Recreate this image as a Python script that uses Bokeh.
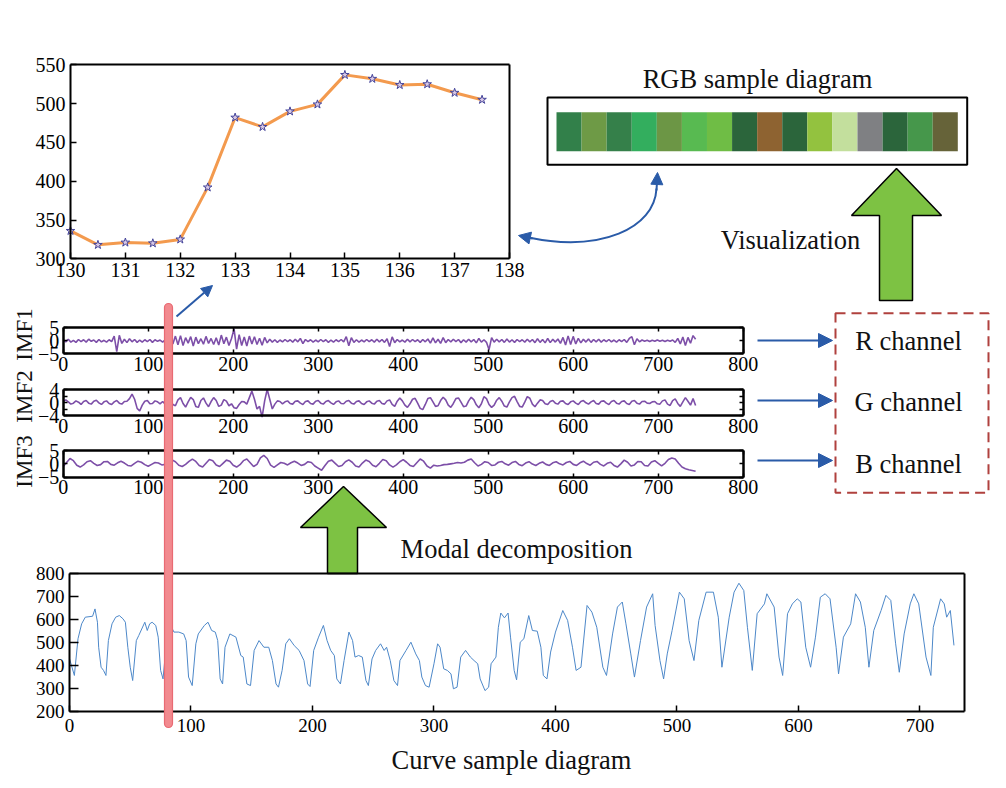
from bokeh.plotting import figure
from bokeh.models import Range1d, LinearAxis, FixedTicker, Arrow, NormalHead, Label
from bokeh.embed import file_html
from bokeh.resources import INLINE

FONT = "Liberation Serif"
BLUE = "#2A5BA8"
GREEN = "#7DC243"
PURPLE = "#7D4FA8"
CURVE_BLUE = "#4D88C9"
ORANGE = "#F39A4E"

# ---------------- data ----------------
top_x = [130, 130.5, 131, 131.5, 132, 132.5, 133, 133.5, 134, 134.5, 135, 135.5, 136, 136.5, 137, 137.5]
top_y = [336, 318, 321, 320, 325, 392, 482, 470, 490, 499, 537, 532, 524, 525, 514, 505]
top_xticks = [130, 131, 132, 133, 134, 135, 136, 137, 138]
top_yticks = [300, 350, 400, 450, 500, 550]

rgb_colors = ["#32804A", "#6E9A46", "#35804A", "#33AE5E", "#6C9645", "#58BA51", "#6FBD45", "#2B653B",
              "#8E6331", "#2B653B", "#93C23F", "#C3DF9D", "#7F8083", "#2B653B", "#46974B", "#666339"]
rgb_index = list(range(len(rgb_colors)))

imf_xticks = [0, 100, 200, 300, 400, 500, 600, 700, 800]
imf1_yticks = [-5, 0, 5]
imf2_yticks = [-4, -2, 0, 2, 4]
imf3_yticks = [-5, 0, 5]

# IMF1 sampled every 3 points
imf1 = [0.3, -0.4, 0.6, -0.5, 0.2, -0.6, 0.5, -0.3, 0.4, -0.5, 0.6, -0.2, 0.3, -0.6, 0.5, -0.4, 0.2, -0.5, 0.4, -0.3,
        1.8, -4.2, 2.1, -1.0, 0.6, -0.7, 0.8, -0.4, 0.5, -0.6, 0.3, -0.5, 0.4, -0.3, 0.5, -0.6, 0.4, -0.2, 0.3, -0.5,
        0.4, -0.6, 0.9, -1.2, 1.8, -1.5, 2.0, -1.8, 1.2, -0.9, 1.6, -2.0, 1.4, -1.1, 0.8, -1.3, 1.7, -1.0, 0.9, -1.4,
        1.2, -1.6, 2.2, -1.1, 1.4, -1.8, 0.9, 4.6, -3.2, 2.4, -1.8, 1.5, -2.0, 1.8, -1.2, 1.6, -1.4, 1.0, -1.7, 1.3,
        -0.8, 0.6, -0.5, 0.4, -0.6, 0.3, -0.4, 0.5, -0.3, 0.4, -0.5, 0.6, -0.4, 0.9, -1.1, 0.5, -0.3, 0.4, -0.5, 0.3,
        -0.4, 0.5, -0.3, 0.4, -0.6, 0.3, -0.5, 0.4, -0.3, 0.5, -0.4, 1.6, -1.9, 1.2, -0.6, 0.4, -0.5, 0.3, -0.4, 0.5,
        -0.3, 0.4, -0.5, 0.6, -0.4, 0.5, -0.6, 0.8, -2.2, 1.5, -0.7, 0.5, -0.4, 0.3, -0.5, 0.6, -0.4, 0.5, -0.3, 0.4,
        -0.6, 0.5, -0.4, 0.7, -0.9, 1.1, -0.8, 0.6, -1.0, 1.2, -0.7, 0.5, -0.4, 0.6, -0.3, 0.5, -0.7, 0.4, -0.5, 0.6,
        -0.4, 0.5, -0.8, 0.9, -0.5, 0.4, -0.6, -3.4, 1.2, -0.5, 0.6, -0.4, 0.5, -0.6, 0.7, -0.5, 0.4, -0.6, 0.5, -0.3,
        0.4, -0.5, 0.6, -0.4, 0.5, -0.7, 0.8, -0.6, 0.5, -0.8, 0.9, -0.7, 0.6, -0.5, 0.7, -1.0, 1.3, -1.6, 1.9, -1.4,
        1.7, -1.2, 0.9, -0.8, 0.6, -0.5, 0.7, -0.6, 0.5, -0.4, 0.6, -0.5, 0.4, -0.3, 0.5, -0.4, 0.3, -0.5, 0.4, -0.3,
        0.5, -0.6, 0.9, 1.6, -1.5, 0.8, -0.4, 0.3, -0.2, 0.2, -0.3, 0.2, -0.2, 0.3, -0.2, 0.2, -0.3, 0.2, -0.2, 0.3,
        -0.6, 0.9, -1.2, 1.5, -1.8, 1.3, -0.9, 2.0, 0.6]

# IMF2 sampled every 3 points
imf2 = [0.3, 0.8, 0.2, -0.5, -0.2, 0.5, 0.1, -0.6, 0.3, 0.6, -0.2, -0.5, 0.4, 0.7, -0.1, -0.6, 0.2, 0.5, -0.3, -0.6,
        0.2, 0.6, -0.2, -0.5, 0.3, 0.4, 1.2, 2.6, 1.0, -1.8, -2.6, -0.8, 0.4, 0.6, -0.4, -0.3, 0.5, 0.2, -0.4, 0.3,
        -0.5, 0.4, 0.6, -0.6, -1.0, 0.8, 1.5, -0.3, -1.4, 0.2, 1.6, 0.9, -1.2, -1.5, 0.6, 1.4, -0.2, -1.3, 0.3, 1.5,
        0.6, -1.2, -0.8, 0.9, 0.4, -1.0, -0.4, -1.6, -1.8, -0.6, 0.3, 0.2, -0.5, 1.5, 3.5, 1.0, -2.0, -1.2, -4.5, 0.5,
        4.0, 1.0, -2.0, -0.5, 0.5, 0.3, -0.4, 0.2, 0.5, -0.3, -0.5, 0.4, 0.5, -0.2, -0.6, 0.3, 0.5, -0.3, -0.5, 0.4,
        0.6, -0.2, -0.5, 0.3, 0.6, -0.1, -0.6, 0.2, 0.5, -0.3, -0.4, 0.4, 0.6, -0.2, -0.5, 0.3, 0.5, -0.3, -0.6, 0.2,
        0.5, -0.2, -0.5, 0.4, 0.6, -0.3, -0.5, 0.5, 0.8, -0.6, -1.2, 0.4, 1.4, 0.5, -0.8, -1.5, -0.4, 1.0, 1.3, -0.2,
        -1.8, -2.2, -0.6, 1.2, 1.5, 0.2, -1.2, -1.0, 0.6, 1.6, 0.8, -0.8, -1.5, -0.3, 1.2, 1.4, 0.1, -1.3, -1.1, 0.5,
        1.6, 0.9, -0.7, -1.6, -0.4, 1.8, 1.2, -0.6, -1.5, -0.8, 0.7, 1.5, 0.4, -1.1, -1.4, 0.2, 1.5, 1.9, 0.3, -1.2,
        -1.4, 0.1, 1.8, 1.3, -0.5, -1.3, -0.2, 0.8, 0.6, -0.4, -0.6, 0.3, 0.6, -0.2, -0.5, 0.4, 0.5, -0.3, -0.6, 0.2,
        0.5, -0.2, -0.6, 0.3, 0.6, -0.1, -0.5, 0.2, 0.6, -0.3, -0.5, 0.4, 0.5, -0.2, -0.6, 0.3, 0.6, -0.2, -0.5, 0.3,
        0.5, -0.3, -0.6, 0.4, 0.6, -0.2, -0.5, 0.3, 0.4, -0.2, -0.3, 0.2, 0.3, -0.4, -0.5, 0.5, 0.8, -0.5, -0.9, 0.6,
        1.1, -0.3, -1.2, 0.2, 1.5, 0.4, -0.8, 1.2, -0.9]

# IMF3 sampled every 4 points
imf3 = [-1.0, 0.5, 2.0, 1.2, -0.5, -1.2, -0.4, 0.8, 1.2, 0.2, -0.6, -0.3, 0.8, 0.9, -0.2, -0.5, 0.4, 1.0, 0.3, -0.6,
        -0.8, 0.2, 1.0, 0.6, -0.3, -0.9, -0.2, 0.5, 0.3, -0.4, -0.2, 0.4, 1.5, 0.8, -0.5, -1.0, -0.2, 0.9, 1.8, 0.9,
        -0.6, -1.2, 0.2, 1.6, 1.2, -0.4, -1.0, 0.2, 1.4, 1.0, -0.5, -1.2, -0.3, 1.2, 1.8, 0.4, -1.0, -0.2, 2.2, 3.2,
        2.0, -0.5, -1.3, -0.4, 0.5, 0.2, -0.4, 0.4, 1.0, 0.3, -0.6, -0.2, 0.8, 0.5, -0.8, -1.6, -2.4, -0.6, 1.0, 1.4,
        0.2, -1.0, -0.6, 0.8, 1.5, 0.6, -0.8, -1.2, 0.3, 1.4, 0.9, -0.5, -1.1, 0.2, 1.6, 1.2, -0.4, -1.2, -0.4, 0.8,
        1.6, 0.6, -0.6, -1.0, 0.4, 1.8, 1.0, -0.8, -1.6, -0.5, -0.8, -0.6, -0.3, -0.2, 0.0, 0.2, 0.5, 0.3, 0.6, 1.4,
        1.8, 0.4, -0.8, -0.2, 0.8, 0.5, -0.6, -0.4, 0.6, 0.9, 0.0, -0.5, 0.5, 0.9, -0.2, -0.7, 0.3, 0.8, -0.1, -0.6,
        0.2, 0.7, -0.2, -0.6, 0.4, 0.8, 0.0, -0.4, 0.5, 0.9, -0.2, -0.6, 0.4, 1.0, 0.1, -0.5, 0.6, 0.9, -0.2, -0.8,
        0.2, 0.6, -0.6, -1.2, 0.0, 1.4, 0.6, -0.8, -0.4, 0.9, 0.8, -0.6, -0.8, 0.7, 1.2, 0.2, -0.8, 0.2, 1.6, 2.2,
        1.8, 0.2, -1.2, -1.8, -2.2, -2.5, -2.8]

imf1_x = list(range(0, 3 * len(imf1), 3))
imf2_x = list(range(0, 3 * len(imf2), 3))
imf3_x = list(range(0, 4 * len(imf3), 4))

curve_xticks = [0, 100, 200, 300, 400, 500, 600, 700]
curve_yticks = [200, 300, 400, 500, 600, 700, 800]
curve_x = [0, 4, 7, 10, 13, 19, 21, 23, 24, 26, 28, 30,
           32, 35, 38, 41, 44, 46, 48, 50, 52, 55, 57, 62,
           64, 66, 68, 71, 73, 75, 77, 80, 84, 86, 90, 94,
           96, 98, 101, 104, 106, 111, 114, 117, 120, 122, 124, 126,
           128, 132, 137, 141, 143, 146, 149, 152, 156, 160, 164, 167,
           170, 172, 175, 178, 181, 185, 189, 193, 196, 198, 201, 205,
           209, 212, 215, 218, 220, 223, 226, 230, 233, 235, 238, 241,
           244, 246, 249, 252, 256, 259, 261, 264, 267, 270, 272, 277,
           281, 285, 288, 290, 293, 296, 300, 303, 305, 308, 311, 314,
           316, 319, 322, 326, 330, 333, 336, 338, 342, 345, 347, 351,
           353, 355, 358, 361, 363, 366, 368, 371, 374, 378, 381, 385,
           388, 390, 393, 396, 400, 406, 410, 414, 417, 421, 426, 430,
           434, 439, 442, 447, 451, 455, 458, 462, 465, 470, 475, 480,
           482, 486, 489, 492, 496, 502, 506, 510, 514, 518, 524, 530,
           534, 537, 543, 547, 551, 555, 558, 562, 566, 572, 574, 580,
           584, 587, 591, 595, 599, 602, 606, 610, 614, 618, 622, 626,
           631, 633, 637, 643, 647, 651, 655, 658, 662, 668, 672, 676,
           680, 683, 687, 692, 695, 699, 705, 709, 711, 717, 720, 722,
           725, 728]
curve_y = [430, 357, 517, 582, 611, 615, 647, 589, 480, 393, 379, 357,
           509, 582, 611, 618, 604, 589, 480, 393, 335, 509, 531, 589,
           553, 582, 589, 575, 524, 379, 342, 517, 567, 546, 546, 538,
           509, 350, 313, 495, 538, 575, 589, 553, 546, 509, 342, 320,
           480, 538, 524, 444, 437, 320, 313, 466, 509, 480, 480, 422,
           320, 306, 379, 495, 517, 487, 466, 422, 320, 309, 466, 524,
           575, 509, 466, 444, 342, 320, 422, 546, 509, 437, 444, 437,
           335, 313, 429, 466, 495, 466, 480, 422, 335, 313, 422, 466,
           502, 451, 422, 350, 313, 306, 408, 495, 480, 386, 379, 364,
           299, 306, 437, 466, 437, 422, 408, 342, 291, 306, 408, 437,
           567, 629, 608, 629, 524, 379, 338, 502, 517, 618, 553, 550,
           480, 357, 342, 459, 546, 640, 597, 480, 379, 393, 662, 633,
           567, 393, 357, 538, 655, 677, 582, 451, 350, 509, 655, 713,
           575, 422, 342, 451, 553, 720, 691, 509, 422, 597, 720, 720,
           611, 393, 611, 720, 759, 727, 567, 379, 626, 669, 713, 655,
           437, 357, 626, 669, 691, 677, 480, 393, 524, 698, 713, 691,
           480, 364, 524, 582, 713, 677, 567, 393, 553, 640, 706, 684,
           495, 371, 538, 669, 713, 669, 437, 357, 567, 691, 669, 611,
           640, 488]

# ---------------- canvas ----------------
W, H = 1000, 784
X0, X1, Y0, Y1 = 0, W, 0, H

p = figure(width=W, height=H, x_range=Range1d(X0, X1), y_range=Range1d(Y1, Y0),
           output_backend="svg", toolbar_location=None, tools="", min_border=0,
           x_axis_location=None, y_axis_location=None, outline_line_color=None)
p.grid.visible = False


def add_x(name, d0, d1, px0, px1):
    s = (d1 - d0) / (px1 - px0)
    p.extra_x_ranges[name] = Range1d(d0 - (px0 - X0) * s, d1 + (X1 - px1) * s)


def add_y(name, d0, d1, py0, py1):
    s = (d1 - d0) / (py0 - py1)
    p.extra_y_ranges[name] = Range1d(d0 - (Y1 - py0) * s, d1 + (py1 - Y0) * s)


def axis(side, xn, yn, loc, bounds, ticks, tick_in, labels=True, overrides=None,
         size="20px", standoff=4, lw=2):
    ax = LinearAxis(x_range_name=xn, y_range_name=yn, fixed_location=loc, bounds=bounds,
                    ticker=FixedTicker(ticks=ticks, minor_ticks=[]),
                    axis_line_width=lw, axis_line_color="black",
                    major_tick_in=tick_in, major_tick_out=0, minor_tick_in=0, minor_tick_out=0,
                    major_tick_line_width=1.5, major_tick_line_color="black",
                    major_label_text_font=FONT, major_label_text_font_size=size,
                    major_label_text_color="black" if labels else None,
                    major_label_standoff=standoff)
    if overrides:
        ax.major_label_overrides = overrides
    p.add_layout(ax, side)


def text(x, y, s, size="26.5px", angle=0):
    p.add_layout(Label(x=x, y=y, text=s, angle=angle, angle_units="deg", text_align="center",
                       text_baseline="middle", text_font=FONT, text_font_size=size,
                       text_color="#111111"))


# ---------- top zoomed plot ----------
add_x("tx", 130, 138, 70, 509)
add_y("ty", 300, 550, 258.3, 64.3)
axis("left", "tx", "ty", 130, (300, 550), top_yticks, 6, standoff=5)
axis("below", "tx", "ty", 300, (130, 138), top_xticks, 6, standoff=4)
axis("above", "tx", "ty", 550, (130, 138), [], 0, labels=False)
axis("right", "tx", "ty", 138, (300, 550), [], 0, labels=False)
p.line(top_x, top_y, x_range_name="tx", y_range_name="ty", line_color=ORANGE, line_width=3)
p.scatter(top_x, top_y, x_range_name="tx", y_range_name="ty", marker="star", size=9,
          fill_color="#D9C9E6", line_color="#44449A", line_width=1)

# ---------- RGB sample diagram ----------
add_x("rx", 0, 16, 556, 957.3)
add_y("ry", 0, 1, 150.7, 111.7)
p.quad(left=[547], right=[966.7], top=[97], bottom=[164.3], fill_color=None,
       line_color="black", line_width=2)
p.quad(left=rgb_index, right=[i + 1 for i in rgb_index], bottom=0, top=1,
       fill_color=rgb_colors, line_color=None, x_range_name="rx", y_range_name="ry")
text(757, 78, "RGB sample diagram")

# ---------- IMF panels ----------
add_x("ix", 0, 800, 62.7, 742.7)
imf_specs = [
    ("i1", imf1_x, imf1, -5, 5, 353.3, 327.3, imf1_yticks, {-5: "\u22125", 0: "0", 5: "5"}, "IMF1", 334),
    ("i2", imf2_x, imf2, -4, 4, 415, 389, imf2_yticks, {-4: "\u22124", -2: "", 0: "0", 2: "", 4: "4"}, "IMF2", 396),
    ("i3", imf3_x, imf3, -5, 5, 476.7, 450, imf3_yticks, {-5: "\u22125", 0: "0", 5: "5"}, "IMF3", 461),
]
for name, xs, ys, lo, hi, pyb, pyt, yt, ov, lab, lab_y in imf_specs:
    add_y(name, lo, hi, pyb, pyt)
    p.line(xs, ys, x_range_name="ix", y_range_name=name, line_color=PURPLE, line_width=1.6)
    axis("below", "ix", name, lo, (0, 800), imf_xticks, 4, standoff=3, lw=2.5)
    axis("above", "ix", name, hi, (0, 800), imf_xticks, 4, labels=False, lw=2.5)
    axis("left", "ix", name, 0, (lo, hi), yt, 4, overrides=ov, standoff=4, lw=2.5)
    axis("right", "ix", name, 800, (lo, hi), yt, 4, labels=False, lw=2.5)
    text(24, lab_y, lab, size="23px", angle=90)

# ---------- channels ----------
p.quad(left=[835], right=[988], top=[312.7], bottom=[492.3], fill_color=None,
       line_color="#B0413E", line_width=2, line_dash="10 6")
for txt, yt_, ya in [("R channel", 340, 340), ("G channel", 401, 400), ("B channel", 463, 460)]:
    text(908, yt_, txt)
    p.add_layout(Arrow(end=NormalHead(size=14, fill_color=BLUE, line_color=BLUE, line_width=1),
                       x_start=757, y_start=ya, x_end=832, y_end=ya,
                       line_color=BLUE, line_width=2))

# ---------- bottom curve ----------
add_x("bx", 0, 737, 69, 964.4)
add_y("by", 200, 800, 711, 573.3)
p.line(curve_x, curve_y, x_range_name="bx", y_range_name="by", line_color=CURVE_BLUE, line_width=1)
axis("left", "bx", "by", 0, (200, 800), curve_yticks, 9, size="19px", standoff=5)
axis("below", "bx", "by", 200, (0, 737), curve_xticks, 6, size="19px", standoff=7)
axis("above", "bx", "by", 800, (0, 737), [], 0, labels=False)
axis("right", "bx", "by", 737, (200, 800), [], 0, labels=False)
text(511, 759, "Curve sample diagram")

# ---------- green block arrows ----------
p.patch([327, 357, 357, 386, 343, 300, 327], [573, 573, 527, 527, 486, 527, 527],
        fill_color=GREEN, line_color="black", line_width=1.5)
p.patch([879, 912, 912, 941, 896, 851, 879], [300, 300, 215, 215, 168, 215, 215],
        fill_color=GREEN, line_color="black", line_width=1.5)
text(516, 548, "Modal decomposition")
text(790, 239, "Visualization")

# ---------- blue connector arrows ----------
p.bezier(x0=[528], y0=[237], x1=[656], y1=[188], cx0=[600], cy0=[252], cx1=[654], cy1=[228],
         line_color=BLUE, line_width=2)
p.add_layout(Arrow(end=NormalHead(size=12, fill_color=BLUE, line_color=BLUE, line_width=1),
                   x_start=532, y_start=238, x_end=518, y_end=235, line_color=BLUE, line_width=2))
p.add_layout(Arrow(end=NormalHead(size=12, fill_color=BLUE, line_color=BLUE, line_width=1),
                   x_start=656, y_start=190, x_end=657, y_end=172, line_color=BLUE, line_width=2))
p.add_layout(Arrow(end=NormalHead(size=11, fill_color=BLUE, line_color=BLUE, line_width=1),
                   x_start=176, y_start=316, x_end=212, y_end=285, line_color=BLUE, line_width=2))

# ---------- red highlight bar ----------
bar = p.quad(left=[164], right=[172], top=[303], bottom=[727], fill_color="#F28A8F",
             line_color="#E96A73", line_width=1.2, border_radius=4)
bar.level = "overlay"

open("out.html", "w").write(file_html(p, INLINE))
